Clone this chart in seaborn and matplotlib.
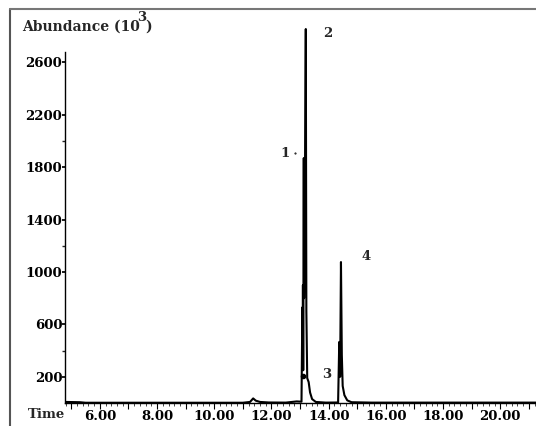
import numpy as np
import pandas as pd
import matplotlib
matplotlib.use('Agg')
import matplotlib.pyplot as plt
import matplotlib.ticker as mticker
from matplotlib.lines import Line2D
import seaborn as sns

# chromatogram trace (time in min, abundance in 10^3)
time_min = [4.80, 5.30, 5.50, 8.00, 11.00, 11.25, 11.36, 11.45, 11.60, 11.90,
            12.50, 12.88, 13.05, 13.08, 13.09, 13.10, 13.11, 13.13, 13.14,
            13.16, 13.20, 13.22, 13.25, 13.30, 13.35, 13.42, 13.55, 13.90,
            14.33, 14.37, 14.38, 14.39, 14.40, 14.43, 14.46, 14.49, 14.55,
            14.65, 14.80, 15.50, 21.25]
abundance = [8, 6, 2, 2, 2, 8, 35, 18, 8, 4,
             3, 12, 10, 730, 300, 900, 250, 1870, 800,
             1300, 2855, 700, 190, 160, 80, 30, 8, 3,
             4, 466, 250, 440, 200, 1076, 366, 130, 60,
             20, 6, 3, 3]

peak_names = ['1', '2', '3', '4']
peak_label_time = [12.48, 13.98, 13.94, 15.31]
peak_label_abund = [1908, 2824, 214, 1115]

y_ticks = [200, 600, 1000, 1400, 1800, 2200, 2600]
y_minor = [400, 1200, 2000]
x_labelled = [6, 8, 10, 12, 14, 16, 18, 20]

sns.set_theme(style='ticks')
plt.rcParams['font.family'] = ['DejaVu Serif']
plt.rcParams['font.weight'] = 'bold'

df = pd.DataFrame({'time': time_min, 'abundance': abundance})

fig = plt.figure(figsize=(5.36, 4.26), dpi=100)
ax = fig.add_axes([65 / 536, 23 / 426, 471 / 536, 394 / 426])

sns.lineplot(data=df, x='time', y='abundance', ax=ax, color='black',
             linewidth=1.5, estimator=None, sort=False)
ax.plot([13.10], [205], 'o', color='black', markersize=3)
ax.plot([12.84], [1905], '.', color='black', markersize=1)

ax.set_xlim(4.78, 21.25)
ax.set_ylim(0, 3008)
ax.set_xlabel('')
ax.set_ylabel('')

for s in ['top', 'right']:
    ax.spines[s].set_visible(False)
ax.spines['left'].set_bounds(0, 2680)
ax.spines['left'].set_linewidth(1.0)
ax.spines['bottom'].set_linewidth(1.0)
ax.spines['left'].set_color('black')
ax.spines['bottom'].set_color('black')

ax.yaxis.set_major_locator(mticker.FixedLocator(y_ticks))
ax.yaxis.set_minor_locator(mticker.FixedLocator(y_minor))
ax.tick_params(axis='y', which='major', length=2, pad=0, labelsize=9.5, colors='black')
ax.tick_params(axis='y', which='minor', length=2)

ax.xaxis.set_major_locator(mticker.MultipleLocator(1))
ax.xaxis.set_minor_locator(mticker.MultipleLocator(0.2))
ax.xaxis.set_major_formatter(mticker.FuncFormatter(
    lambda v, p: f'{v:.2f}' if round(v) in x_labelled else ''))
ax.tick_params(axis='x', which='major', length=4, width=0.8, pad=1, labelsize=9.5, colors='black')
ax.tick_params(axis='x', which='minor', length=2, width=0.6)

for name, t, a in zip(peak_names, peak_label_time, peak_label_abund):
    ax.text(t, a, name, ha='center', va='center', fontsize=9.5, fontweight='bold')

# axis titles
fig.text(22 / 536, 1 - 31 / 426, 'Abundance (10', fontsize=10, fontweight='bold',
         va='baseline', ha='left')
fig.text(137 / 536, 1 - 21 / 426, '3', fontsize=9.5, fontweight='bold',
         va='baseline', ha='left')
fig.text(145 / 536, 1 - 31 / 426, ')', fontsize=10, fontweight='bold',
         va='baseline', ha='left')
fig.text(28 / 536, 1 - 418 / 426, 'Time', fontsize=9.5, fontweight='bold',
         va='baseline', ha='left')

# outer frame of the scanned panel
fig.add_artist(Line2D([10 / 536, 10 / 536], [0, 1 - 9 / 426], color='#555555',
                      linewidth=1.5, transform=fig.transFigure))
fig.add_artist(Line2D([10 / 536, 1], [1 - 9 / 426, 1 - 9 / 426], color='#777777',
                      linewidth=1.5, transform=fig.transFigure))

fig.savefig('out.png', dpi=100)
